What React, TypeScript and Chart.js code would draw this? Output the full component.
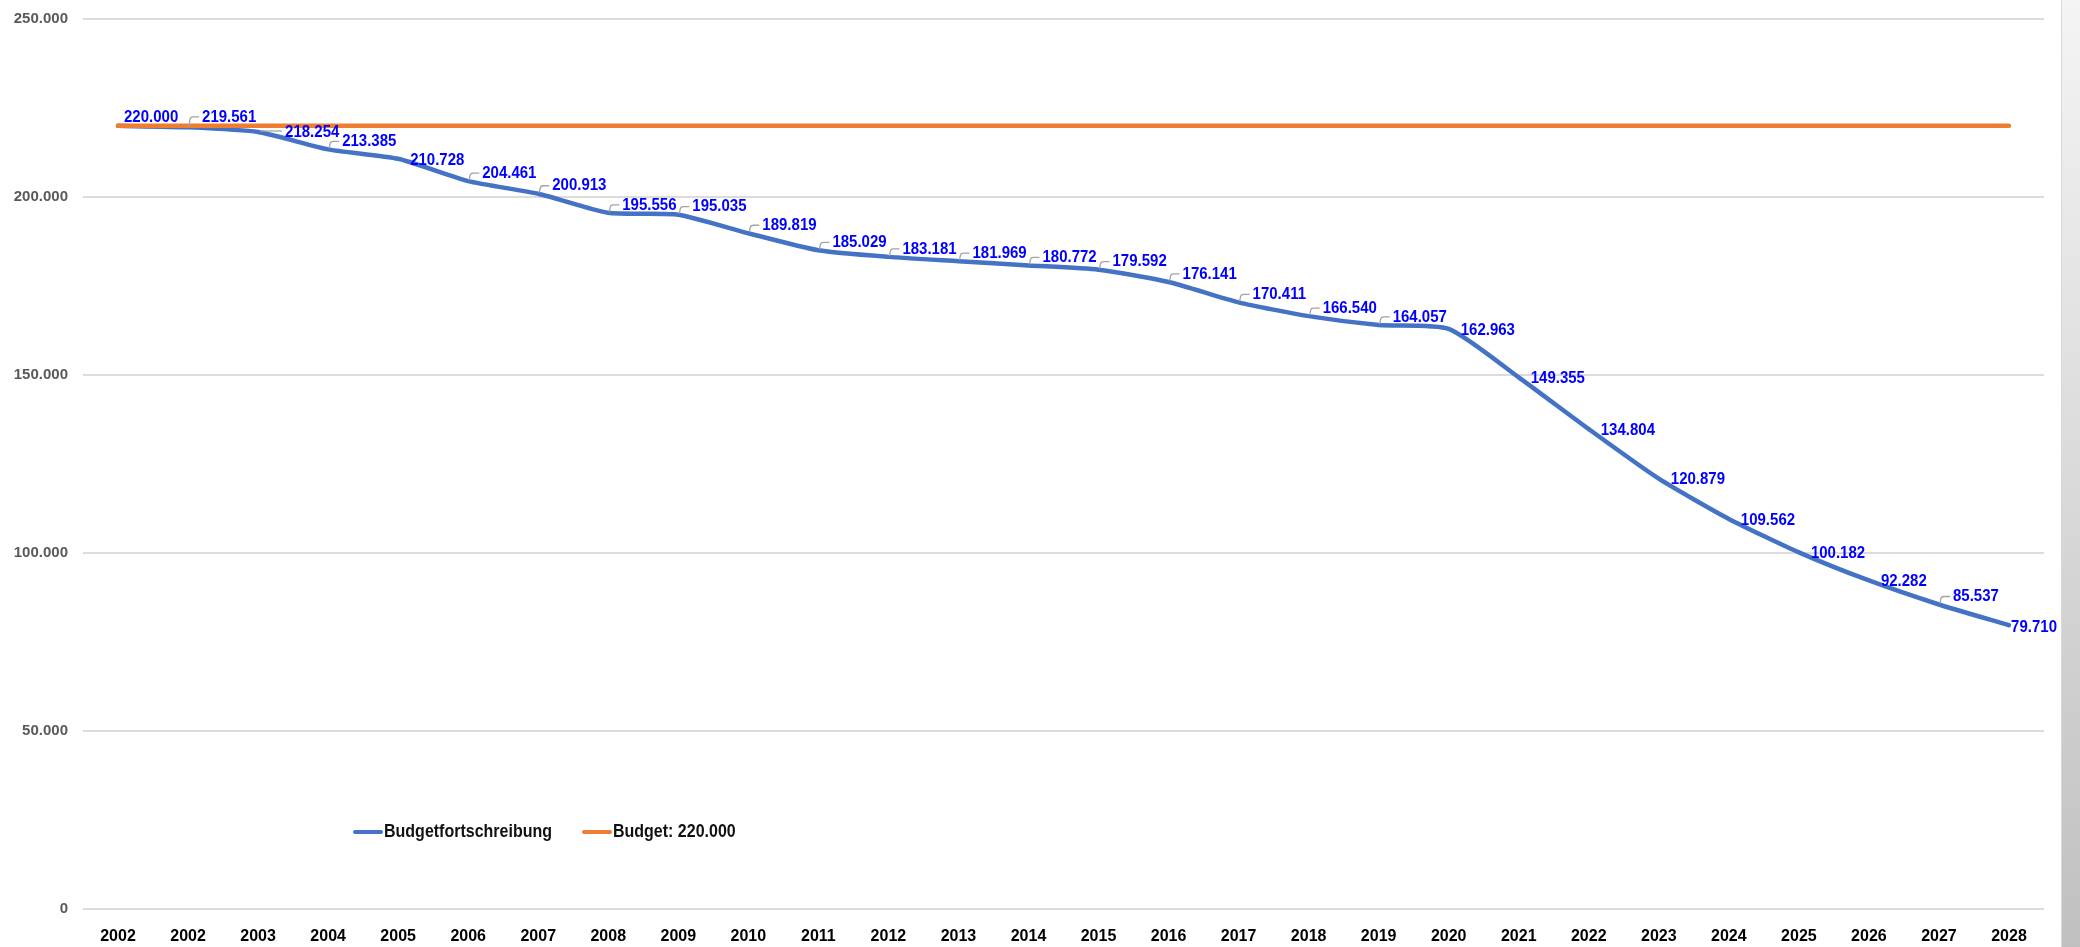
import React, { useEffect, useRef } from 'react';
import { Chart, registerables } from 'chart.js';

Chart.register(...registerables);

// ---- data ----
const yearLabels = [
  '2002', '2002', '2003', '2004', '2005', '2006', '2007', '2008', '2009', '2010',
  '2011', '2012', '2013', '2014', '2015', '2016', '2017', '2018', '2019', '2020',
  '2021', '2022', '2023', '2024', '2025', '2026', '2027', '2028',
];

const budgetfortschreibung = [
  220000, 219561, 218254, 213385, 210728, 204461, 200913, 195556, 195035, 189819,
  185029, 183181, 181969, 180772, 179592, 176141, 170411, 166540, 164057, 162963,
  149355, 134804, 120879, 109562, 100182, 92282, 85537, 79710,
];

const budget = [
  220000, 220000, 220000, 220000, 220000, 220000, 220000, 220000, 220000, 220000,
  220000, 220000, 220000, 220000, 220000, 220000, 220000, 220000, 220000, 220000,
  220000, 220000, 220000, 220000, 220000, 220000, 220000, 220000,
];

const yTickValues = [0, 50000, 100000, 150000, 200000, 250000];

const seriesNames = ['Budgetfortschreibung', 'Budget: 220.000'];
const seriesColors = ['#4472c4', '#ed7d31'];

const FONT = '"Liberation Sans", Arial, Helvetica, sans-serif';
const STRETCH = 1.14;

function fmt(v: number): string {
  return String(Math.round(v)).replace(/\B(?=(\d{3})+(?!\d))/g, '.');
}

function drawStretched(ctx: CanvasRenderingContext2D, text: string, x: number, y: number) {
  ctx.save();
  ctx.translate(x, y);
  ctx.scale(1, STRETCH);
  ctx.fillText(text, 0, 0);
  ctx.restore();
}

const pointLabelPlugin = {
  id: 'pointLabels',
  afterDatasetsDraw(chart: any) {
    const meta = chart.getDatasetMeta(0);
    const pts = meta.data;
    const ctx: CanvasRenderingContext2D = chart.ctx;
    const area = chart.chartArea;
    const budgetY = chart.scales.y.getPixelForValue(budget[0]);
    const capH = 12;
    ctx.save();
    ctx.font = `bold 15px ${FONT}`;
    ctx.textBaseline = 'middle';
    ctx.textAlign = 'left';
    const n = pts.length;
    for (let i = 0; i < n; i++) {
      const x = pts[i].x;
      const y = pts[i].y;
      const text = fmt(budgetfortschreibung[i]);
      const w = ctx.measureText(text).width;
      let lx: number;
      let cy: number;
      let leader: 'none' | 'bent' | 'flat';
      if (i === n - 1) {
        // no following segment: label sits right of the point, kept inside the frame
        lx = Math.min(x + 12, area.right + 13 - w);
        cy = y + 2;
        leader = 'none';
      } else {
        const drop = pts[i + 1].y - y;
        if (drop >= 22) {
          lx = x + 12;
          cy = y + 1;
          leader = 'none';
        } else {
          lx = x + 14;
          cy = y - 8;
          leader = 'bent';
          const top = cy - capH / 2;
          const bottom = cy + capH / 2;
          if (bottom > budgetY - 3 && top < budgetY + 3) {
            if (y - budgetY > 4) {
              lx = x + 27;
              cy = y;
              leader = 'flat';
            } else {
              cy = budgetY - 3 - capH / 2;
              if (i === 0) {
                leader = 'none';
                lx = x + 6;
              }
            }
          }
        }
      }
      ctx.strokeStyle = '#a3a3a3';
      ctx.lineWidth = 1.3;
      if (leader === 'bent') {
        ctx.beginPath();
        ctx.moveTo(x + 1, y - 1);
        ctx.lineTo(x + 2, cy + 2);
        ctx.quadraticCurveTo(x + 2.5, cy, x + 5, cy);
        ctx.lineTo(lx - 3, cy);
        ctx.stroke();
      } else if (leader === 'flat') {
        ctx.beginPath();
        ctx.moveTo(x + 2, y - 1);
        ctx.lineTo(lx - 3, y - 1);
        ctx.stroke();
      }
      ctx.fillStyle = '#0000ff';
      drawStretched(ctx, text, lx, cy);
    }
    ctx.restore();
  },
};

const legendPlugin = {
  id: 'innerLegend',
  afterDraw(chart: any) {
    const ctx: CanvasRenderingContext2D = chart.ctx;
    const area = chart.chartArea;
    ctx.save();
    ctx.font = `bold 16px ${FONT}`;
    ctx.textBaseline = 'middle';
    ctx.textAlign = 'left';
    let x = area.left + 270;
    const y = area.bottom - 77;
    for (let i = 0; i < seriesNames.length; i++) {
      ctx.strokeStyle = seriesColors[i];
      ctx.lineWidth = 4;
      ctx.lineCap = 'round';
      ctx.beginPath();
      ctx.moveTo(x + 2, y);
      ctx.lineTo(x + 28, y);
      ctx.stroke();
      x += 31;
      ctx.fillStyle = '#111111';
      drawStretched(ctx, seriesNames[i], x, y);
      x += ctx.measureText(seriesNames[i]).width + 30;
    }
    ctx.restore();
  },
};

export default function App() {
  const canvasRef = useRef<HTMLCanvasElement | null>(null);

  useEffect(() => {
    document.body.style.margin = '0';
    const canvas = canvasRef.current;
    if (!canvas) return;
    const chart = new Chart(canvas, {
      type: 'line',
      data: {
        labels: yearLabels,
        datasets: [
          {
            label: seriesNames[0],
            data: budgetfortschreibung,
            borderColor: seriesColors[0],
            backgroundColor: seriesColors[0],
            borderWidth: 4.5,
            tension: 0.2,
            pointRadius: 0,
            pointHoverRadius: 0,
            borderCapStyle: 'round',
            borderJoinStyle: 'round',
            fill: false,
            order: 1,
          },
          {
            label: seriesNames[1],
            data: budget,
            borderColor: seriesColors[1],
            backgroundColor: seriesColors[1],
            borderWidth: 4.5,
            tension: 0,
            pointRadius: 0,
            pointHoverRadius: 0,
            borderCapStyle: 'round',
            fill: false,
            order: 0,
          },
        ],
      },
      options: {
        responsive: false,
        animation: false,
        devicePixelRatio: 1,
        layout: { padding: { top: 19, right: 36, left: 0, bottom: 0 } },
        plugins: {
          legend: { display: false },
          tooltip: { enabled: false },
        },
        scales: {
          x: {
            type: 'category',
            offset: true,
            grid: { display: false, drawTicks: false },
            border: { display: false },
            ticks: {
              font: { family: FONT, size: 16, weight: 'bold' },
              color: '#000000',
              padding: 18,
              maxRotation: 0,
              autoSkip: false,
            },
            afterFit: (s: any) => {
              s.height = 38;
            },
          },
          y: {
            min: 0,
            max: 250000,
            grid: { color: '#dcdcdc', lineWidth: 2, drawTicks: false },
            border: { display: false },
            ticks: {
              font: { family: FONT, size: 15, weight: 'bold' },
              color: '#595959',
              padding: 15,
              callback: (v: any) => fmt(Number(v)),
            },
            afterBuildTicks: (s: any) => {
              s.ticks = yTickValues.map((v) => ({ value: v }));
            },
            afterFit: (s: any) => {
              s.width = 83;
              s.paddingTop = 9;
              s.paddingBottom = 9;
            },
          },
        },
      } as any,
      plugins: [pointLabelPlugin, legendPlugin],
    });
    return () => chart.destroy();
  }, []);

  return (
    <div style={{ position: 'relative', width: 2080, height: 947, background: '#ffffff', overflow: 'hidden' }}>
      <canvas ref={canvasRef} width={2080} height={947} style={{ display: 'block' }} />
      <div
        style={{
          position: 'absolute',
          left: 2061,
          top: 0,
          width: 19,
          height: 947,
          background: 'linear-gradient(#f4f4f4, #c0c0c0)',
          borderLeft: '1px solid #d9d9d9',
        }}
      />
    </div>
  );
}
